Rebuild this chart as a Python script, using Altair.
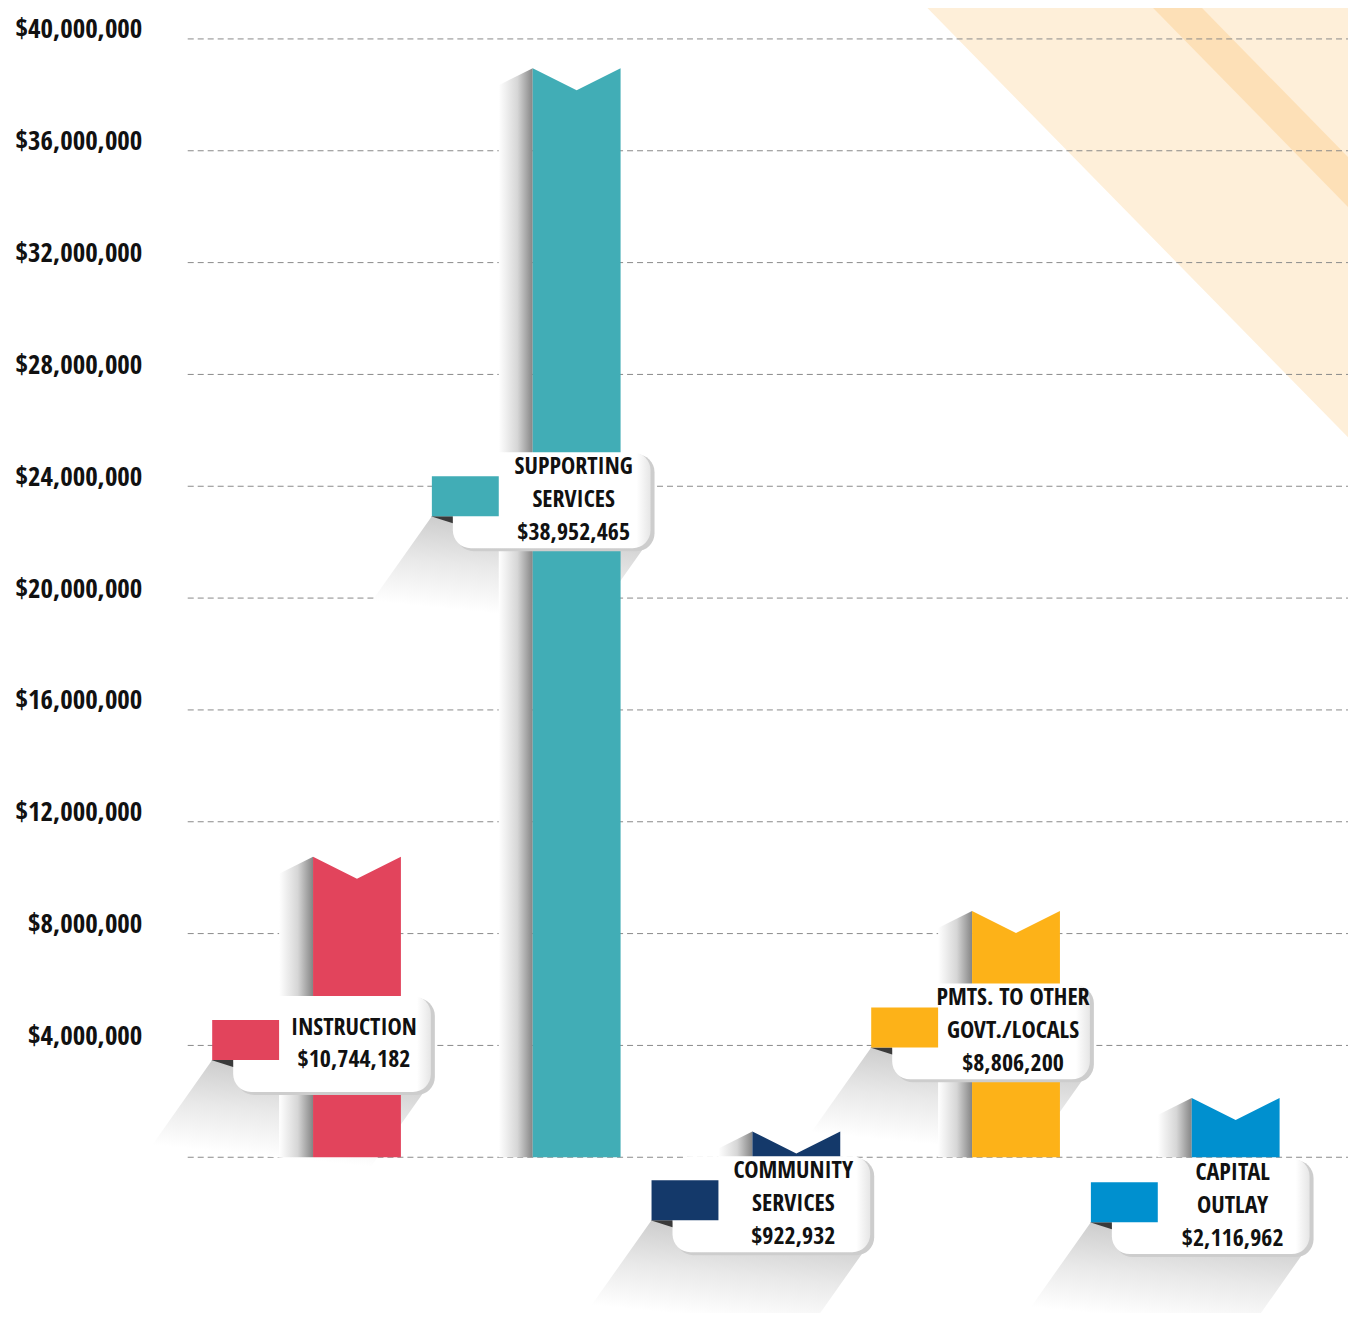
import altair as alt
import pandas as pd
import numpy as np

# ---------------- data ----------------
categories = ["INSTRUCTION", "SUPPORTING SERVICES", "COMMUNITY SERVICES",
              "PMTS. TO OTHER GOVT./LOCALS", "CAPITAL OUTLAY"]
label_lines = [["INSTRUCTION"], ["SUPPORTING", "SERVICES"], ["COMMUNITY", "SERVICES"],
               ["PMTS. TO OTHER", "GOVT./LOCALS"], ["CAPITAL", "OUTLAY"]]
values = [10744182, 38952465, 922932, 8806200, 2116962]
colors = ["#E2445C", "#41ADB6", "#14396A", "#FDB218", "#0090CF"]
# vertical centre of each callout, in dollars
label_y = [4050000, 23500000, -1680000, 4500000, -1750000]
y_ticks = list(range(0, 40000001, 4000000))

# ---------------- geometry / style ----------------
W, H = 1162, 1120
Y_MAX = 40000000
XPU = 220.0            # px per category step
YPP = Y_MAX / H        # dollars per px
X_DOMAIN = [-169.5 / XPU, (W - 169.5) / XPU]
FONT = ("'Noto Sans Condensed', 'Open Sans Condensed', 'Roboto Condensed', "
        "'DejaVu Sans Condensed', 'Liberation Sans Narrow', 'Arial Narrow', Roboto, sans-serif")
LINE_H = 33
TEXT_SIZE = 24

x_scale = alt.Scale(domain=X_DOMAIN, nice=False, zero=False)
y_scale = alt.Scale(domain=[0, Y_MAX], nice=False, zero=False)
cscale = alt.Scale(domain=categories, range=colors)

y_axis = alt.Axis(values=y_ticks, grid=False, domain=False, ticks=False,
                  labelExpr="datum.value == 0 ? '' : format(datum.value, '$,.0f')",
                  labelPadding=46, labelFontSize=27, labelFont=FONT,
                  labelFontWeight="bold", labelColor="#111111",
                  labelBaseline="middle", labelOffset=-9, title=None)


def X(field):
    return alt.X(field, type="quantitative", scale=x_scale, axis=None)


def Y(field):
    return alt.Y(field, type="quantitative", scale=y_scale, axis=y_axis, stack=None)


def px(i, base, dx, dy):
    """offset a data anchor by pixels (dy positive downward)"""
    return i + dx / XPU, base - dy * YPP


# long-shadow parallelogram (pixel offsets from callout centre)
A = np.array([-145.0, 16.0]); B = np.array([74.0, 38.0]); D = np.array([-60.0, 85.0])
Ap, Bp = A + D, B + D
# gradient whose iso-lines run parallel to AB (bbox-normalised coordinates)
x0, x1 = Ap[0], B[0]
y0, y1 = A[1], Bp[1]
w, h = x1 - x0, y1 - y0
A_n = np.array([(A[0] - x0) / w, (A[1] - y0) / h])
AB_n = np.array([(B[0] - A[0]) / w, (B[1] - A[1]) / h])
g = np.array([-AB_n[1], AB_n[0]]); g = g / np.linalg.norm(g)
D_n = np.array([D[0] / w, D[1] / h])
E_n = A_n + np.dot(D_n, g) * g

bar_rows, shadow_rows, long_rows, fold_rows = [], [], [], []
box_rows = []


def lerp(p, q, x):
    t = (x - p[0]) / (q[0] - p[0])
    return p[1] + t * (q[1] - p[1])


for i, (cat, v) in enumerate(zip(categories, values)):
    # notched bar
    for dx, dy in [(-44, 0), (0, 22), (44, 0)]:
        x, y = px(i, v, dx, dy)
        bar_rows.append(dict(cat=cat, x=x, y=y, y2=0))
    # bar side shadow
    for dx, dy in [(-78, 17), (-44, 0)]:
        x, y = px(i, v, dx, dy)
        shadow_rows.append(dict(cat=cat, x=x, y=y, y2=0))
    cy = label_y[i]
    for xv in [Ap[0], A[0], Bp[0], B[0]]:
        up = lerp(Ap, A, xv) if xv <= A[0] else lerp(A, B, xv)
        lo = lerp(Ap, Bp, xv) if xv <= Bp[0] else lerp(Bp, B, xv)
        xx, yu = px(i, cy, xv, up)
        _, yl = px(i, cy, xv, lo)
        long_rows.append(dict(cat=cat, x=xx, y=yu, y2=yl))
    # fold triangle
    for dx, d1, d2 in [(-146, 16, 16), (-124, 16, 23)]:
        xx, y1_ = px(i, cy, dx, d1)
        _, y2_ = px(i, cy, dx, d2)
        fold_rows.append(dict(cat=cat, x=xx, y=y1_, y2=y2_))
    # boxes
    bx1, by1 = px(i, cy, -124, -48)
    bx2, by2 = px(i, cy, 74, 48)
    sx1, sy1 = px(i, cy, -121, -46)
    sx2, sy2 = px(i, cy, 78, 51)
    rx1, ry1 = px(i, cy, -145, -24)
    rx2, ry2 = px(i, cy, -78, 16)
    lines = label_lines[i] + ["${:,}".format(v)]
    tx, ty = px(i, cy, -3, -(len(lines) - 1) * LINE_H / 2)
    box_rows.append(dict(cat=cat, bx1=bx1, by1=by1, bx2=bx2, by2=by2,
                         sx1=sx1, sy1=sy1, sx2=sx2, sy2=sy2,
                         rx1=rx1, ry1=ry1, rx2=rx2, ry2=ry2,
                         tx=tx, ty=ty, text="\n".join(lines)))

bars = pd.DataFrame(bar_rows)
shadows = pd.DataFrame(shadow_rows)
longs = pd.DataFrame(long_rows)
folds = pd.DataFrame(fold_rows)
boxes = pd.DataFrame(box_rows)
ticks = pd.DataFrame({"v": y_ticks})
one = pd.DataFrame({"a": [0]})

# ---------------- layers ----------------
band_light = alt.Chart(one).mark_rule(color="#FEEFD9", strokeWidth=600, strokeCap="butt").encode(
    x=alt.value(668.4), y=alt.value(-533.6), x2=alt.value(1578), y2=alt.value(395))
band_dark = alt.Chart(one).mark_rule(color="#FDE0B7", strokeWidth=35, strokeCap="butt").encode(
    x=alt.value(914.5), y=alt.value(-109.4), x2=alt.value(1404.4), y2=alt.value(390.6))

grid = alt.Chart(ticks).mark_rule(color="#8a8a8a", strokeWidth=1, strokeDash=[6, 4]).encode(
    y=Y("v"), x=alt.value(0), x2=alt.value(W))

long_shadow = alt.Chart(longs).mark_area(
    color=alt.Gradient(gradient="linear",
                       stops=[alt.GradientStop(color="#cdcdcd", offset=0),
                              alt.GradientStop(color="#e9e9e9", offset=0.5),
                              alt.GradientStop(color="#ffffff", offset=1)],
                       x1=float(A_n[0]), y1=float(A_n[1]), x2=float(E_n[0]), y2=float(E_n[1]))
).encode(x=X("x"), y=Y("y"), y2="y2", detail="cat:N")

bar_shadow = alt.Chart(shadows).mark_area(
    color=alt.Gradient(gradient="linear",
                       stops=[alt.GradientStop(color="#ffffff", offset=0),
                              alt.GradientStop(color="#d6d6d6", offset=0.55),
                              alt.GradientStop(color="#858585", offset=1)],
                       x1=0, y1=0, x2=1, y2=0)
).encode(x=X("x"), y=Y("y"), y2="y2", detail="cat:N")

bar_layer = alt.Chart(bars).mark_area().encode(
    x=X("x"), y=Y("y"), y2="y2",
    color=alt.Color("cat:N", scale=cscale, legend=None))

box_shadow = alt.Chart(boxes).mark_rect(color="#cdcdcd", cornerRadius=18).encode(
    x=X("sx1"), x2="sx2", y=Y("sy1"), y2="sy2")
box = alt.Chart(boxes).mark_rect(
    cornerRadius=18,
    color=alt.Gradient(gradient="linear",
                       stops=[alt.GradientStop(color="#ffffff", offset=0),
                              alt.GradientStop(color="#ffffff", offset=0.93),
                              alt.GradientStop(color="#e6e6e6", offset=1)],
                       x1=0, y1=0, x2=1, y2=0)
).encode(x=X("bx1"), x2="bx2", y=Y("by1"), y2="by2")

fold = alt.Chart(folds).mark_area(color="#3a3a3a").encode(
    x=X("x"), y=Y("y"), y2="y2", detail="cat:N")

swatch = alt.Chart(boxes).mark_rect().encode(
    x=X("rx1"), x2="rx2", y=Y("ry1"), y2="ry2",
    color=alt.Color("cat:N", scale=cscale, legend=None))

labels = alt.Chart(boxes).mark_text(
    font=FONT, fontSize=TEXT_SIZE, fontWeight="bold", lineHeight=LINE_H, lineBreak="\n",
    align="center", baseline="middle", color="#111111"
).encode(x=X("tx"), y=Y("ty"), text="text:N")

chart = alt.layer(
    band_light, band_dark, grid, long_shadow, bar_shadow, bar_layer,
    box_shadow, box, fold, swatch, labels
).properties(
    width=W, height=H,
    autosize=alt.AutoSizeParams(type="none"),
    padding={"left": 180, "top": 30, "right": 0, "bottom": 155},
).configure_view(stroke=None)

chart.save("out.html", embed_options={"renderer": "svg", "actions": False})
